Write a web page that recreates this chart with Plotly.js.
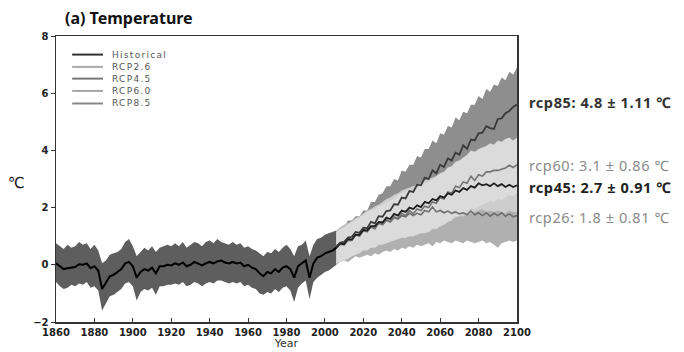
<!DOCTYPE html>
<html><head><meta charset="utf-8">
<script src="https://cdn.plot.ly/plotly-3.0.1.min.js"></script>
<style>html,body{margin:0;padding:0;background:#fff;}#chart{width:684px;height:352px;}</style>
</head><body><div id="chart"></div>
<script>
const histYears = [1860,1862,1864,1866,1868,1870,1872,1874,1876,1878,1880,1882,1884,1886,1888,1890,1892,1894,1896,1898,1900,1902,1904,1906,1908,1910,1912,1914,1916,1918,1920,1922,1924,1926,1928,1930,1932,1934,1936,1938,1940,1942,1944,1946,1948,1950,1952,1954,1956,1958,1960,1962,1964,1966,1968,1970,1972,1974,1976,1978,1980,1982,1984,1986,1988,1990,1992,1994,1996,1998,2000,2002,2004,2006];
const histMean = [0.05,-0.05,-0.15,-0.12,-0.1,-0.08,0.02,0.0,0.05,-0.12,-0.05,-0.2,-0.85,-0.6,-0.4,-0.35,-0.25,-0.15,0.05,0.1,-0.05,-0.45,-0.25,-0.15,-0.2,-0.1,-0.3,-0.05,-0.05,0.0,-0.02,0.05,0.0,0.08,-0.05,0.0,0.1,0.05,-0.02,0.05,0.1,0.05,0.12,0.15,0.08,0.05,0.1,0.05,0.08,-0.05,0.0,-0.1,-0.15,-0.3,-0.4,-0.25,-0.3,-0.15,-0.25,-0.1,-0.05,-0.15,-0.45,-0.05,0.05,0.15,-0.45,0.05,0.25,0.3,0.4,0.45,0.5,0.6];
const histUpper = [0.75,0.65,0.55,0.7,0.6,0.65,0.8,0.7,0.75,0.55,0.7,0.5,0.05,0.15,0.35,0.4,0.45,0.55,0.8,0.9,0.65,0.3,0.45,0.6,0.5,0.65,0.45,0.6,0.65,0.7,0.65,0.75,0.65,0.8,0.6,0.7,0.8,0.75,0.65,0.8,0.85,0.75,0.9,0.8,0.75,0.7,0.8,0.7,0.75,0.6,0.65,0.55,0.5,0.4,0.3,0.45,0.4,0.55,0.45,0.6,0.7,0.55,0.3,0.65,0.7,0.85,0.3,0.7,0.9,0.95,1.05,1.1,1.15,1.2];
const histLower = [-0.6,-0.75,-0.85,-0.8,-0.7,-0.75,-0.65,-0.7,-0.6,-0.8,-0.75,-0.9,-1.6,-1.35,-1.1,-1.05,-0.95,-0.85,-0.65,-0.6,-0.75,-1.25,-0.95,-0.85,-0.9,-0.8,-1.05,-0.75,-0.75,-0.7,-0.7,-0.65,-0.7,-0.6,-0.75,-0.7,-0.6,-0.65,-0.75,-0.65,-0.6,-0.65,-0.55,-0.55,-0.6,-0.65,-0.6,-0.65,-0.6,-0.75,-0.7,-0.8,-0.85,-1.0,-1.05,-0.95,-1.0,-0.85,-0.95,-0.8,-0.75,-0.9,-1.3,-0.8,-0.65,-0.55,-1.2,-0.6,-0.45,-0.35,-0.25,-0.2,-0.1,0.0];

const futYears = [2006,2008,2010,2012,2014,2016,2018,2020,2022,2024,2026,2028,2030,2032,2034,2036,2038,2040,2042,2044,2046,2048,2050,2052,2054,2056,2058,2060,2062,2064,2066,2068,2070,2072,2074,2076,2078,2080,2082,2084,2086,2088,2090,2092,2094,2096,2098,2100];

const rcp85Mean = [0.65,0.78,0.8,0.95,0.98,1.15,1.12,1.3,1.28,1.5,1.45,1.7,1.68,1.88,1.9,2.12,2.1,2.35,2.32,2.58,2.55,2.8,2.78,3.05,3.0,3.3,3.2,3.5,3.42,3.72,3.65,3.92,3.85,4.18,4.05,4.38,4.35,4.6,4.62,4.85,4.78,4.75,5.1,5.12,5.3,5.38,5.52,5.6];
const rcp85Upper = [1.1,1.3,1.3,1.55,1.55,1.7,1.7,1.9,1.9,2.2,2.2,2.45,2.5,2.75,2.75,3.0,2.95,3.3,3.25,3.5,3.5,3.8,3.75,4.05,4.05,4.35,4.25,4.6,4.55,4.85,4.8,5.15,5.05,5.35,5.3,5.6,5.6,5.9,5.8,6.15,6.05,6.3,6.25,6.55,6.45,6.75,6.65,6.9];
const rcp85Lower = [0.15,0.2,0.3,0.35,0.45,0.5,0.6,0.6,0.7,0.8,0.8,0.9,1.0,1.0,1.15,1.2,1.3,1.35,1.45,1.5,1.6,1.65,1.75,1.8,1.9,2.0,2.05,2.2,2.2,2.35,2.45,2.5,2.6,2.75,2.8,2.9,3.05,3.1,3.25,3.35,3.45,3.45,3.65,3.75,3.85,3.95,4.1,4.4];

const rcp60Mean = [0.6,0.72,0.7,0.86,0.85,1.05,1.0,1.2,1.15,1.32,1.25,1.45,1.4,1.55,1.5,1.68,1.62,1.8,1.72,1.9,1.78,1.95,1.9,2.05,2.0,2.2,2.15,2.35,2.3,2.55,2.5,2.75,2.7,2.9,2.85,3.1,2.95,3.15,3.1,3.25,3.25,3.3,3.3,3.35,3.38,3.48,3.4,3.5];
const rcp60Upper = [1.15,1.25,1.3,1.4,1.5,1.6,1.65,1.75,1.85,1.9,1.95,2.05,2.1,2.2,2.25,2.3,2.45,2.5,2.55,2.65,2.6,2.7,2.8,2.85,2.9,3.0,3.1,3.2,3.25,3.4,3.45,3.6,3.65,3.75,3.85,4.0,3.95,4.05,4.1,4.15,4.25,4.2,4.35,4.3,4.4,4.45,4.35,4.45];
const rcp60Lower = [0.05,0.1,0.15,0.2,0.3,0.35,0.4,0.5,0.5,0.6,0.6,0.7,0.7,0.75,0.8,0.85,0.9,0.95,0.95,1.0,1.0,1.05,1.1,1.1,1.15,1.25,1.25,1.35,1.4,1.5,1.55,1.7,1.7,1.8,1.85,2.0,1.95,2.05,2.1,2.15,2.25,2.2,2.3,2.25,2.35,2.45,2.4,2.5];

const rcp45Mean = [0.6,0.75,0.72,0.9,0.88,1.05,1.05,1.22,1.2,1.35,1.35,1.5,1.48,1.65,1.6,1.78,1.72,1.9,1.85,2.0,1.95,2.08,2.02,2.2,2.15,2.3,2.25,2.4,2.35,2.5,2.45,2.6,2.55,2.68,2.62,2.75,2.7,2.85,2.78,2.82,2.75,2.85,2.75,2.82,2.72,2.8,2.72,2.78];
const rcp45Upper = [1.15,1.25,1.35,1.45,1.5,1.6,1.7,1.8,1.9,1.95,2.05,2.1,2.2,2.3,2.35,2.45,2.5,2.6,2.65,2.7,2.75,2.8,2.85,2.95,3.0,3.05,3.1,3.15,3.2,3.3,3.35,3.4,3.45,3.5,3.55,3.55,3.6,3.7,3.75,3.65,3.7,3.65,3.7,3.7,3.6,3.7,3.65,3.65];
const rcp45Lower = [0.05,0.15,0.2,0.25,0.3,0.4,0.5,0.55,0.6,0.65,0.75,0.75,0.8,0.9,0.9,0.95,1.0,1.05,1.1,1.1,1.15,1.15,1.2,1.25,1.3,1.35,1.4,1.45,1.5,1.5,1.6,1.65,1.7,1.7,1.75,1.8,1.85,1.9,1.95,1.85,1.9,1.85,1.9,1.85,1.8,1.9,1.85,1.85];

const rcp26Mean = [0.6,0.72,0.75,0.9,0.88,1.05,1.05,1.2,1.18,1.35,1.3,1.47,1.42,1.58,1.5,1.65,1.6,1.72,1.68,1.8,1.72,1.8,1.75,1.9,1.85,2.02,1.85,1.9,1.82,1.88,1.8,1.85,1.78,1.82,1.75,1.88,1.75,1.82,1.72,1.82,1.7,1.8,1.72,1.82,1.7,1.78,1.68,1.72];
const rcp26Upper = [1.2,1.3,1.4,1.45,1.55,1.65,1.7,1.8,1.85,1.95,2.0,2.1,2.1,2.2,2.25,2.3,2.35,2.4,2.45,2.5,2.5,2.5,2.55,2.6,2.65,2.75,2.65,2.6,2.65,2.6,2.6,2.55,2.6,2.55,2.6,2.6,2.55,2.6,2.55,2.6,2.5,2.55,2.55,2.6,2.5,2.55,2.5,2.5];
const rcp26Lower = [0.0,0.1,0.15,0.1,0.2,0.3,0.25,0.3,0.35,0.3,0.4,0.35,0.45,0.5,0.45,0.55,0.5,0.6,0.55,0.65,0.6,0.7,0.65,0.7,0.75,0.65,0.8,0.75,0.85,0.8,0.75,0.85,0.8,0.75,0.85,0.8,0.75,0.8,0.85,0.75,0.8,0.7,0.6,0.75,0.8,0.85,0.8,0.85];

const legendNames = ['Historical','RCP2.6','RCP4.5','RCP6.0','RCP8.5'];
const legendColors = ['#333333','#aaaaaa','#777777','#a5a5a5','#888888'];

const endLabels = ['rcp85: 4.8 ± 1.11 ℃','rcp60: 3.1 ± 0.86 ℃','rcp45: 2.7 ± 0.91 ℃','rcp26: 1.8 ± 0.81 ℃'];
const endLabelY = [5.7, 3.5, 2.72, 1.68];
const endLabelColors = ['#333333','#8a8a8a','#222222','#8a8a8a'];
const endLabelBold = [true,false,true,false];

function band(x, lo, hi, color){
  return [
    {x:x, y:lo, type:'scatter', mode:'lines', line:{width:0, color:color}, showlegend:false, hoverinfo:'skip'},
    {x:x, y:hi, type:'scatter', mode:'lines', line:{width:0, color:color}, fill:'tonexty', fillcolor:color, showlegend:false, hoverinfo:'skip'}
  ];
}
function line(x, y, color, w){
  return {x:x, y:y, type:'scatter', mode:'lines', line:{color:color, width:w}, showlegend:false};
}

const data = [].concat(
  band(histYears, histLower, histUpper, '#5e5e5e'),
  band(futYears, rcp85Lower, rcp85Upper, '#8e8e8e'),
  band(futYears, rcp26Lower, rcp26Upper, '#b0b0b0'),
  band(futYears, rcp45Lower, rcp45Upper, '#cdcdcd'),
  band(futYears, rcp60Lower, rcp60Upper, '#dbdbdb'),
  [line(futYears, rcp26Mean, '#6e6e6e', 1.6),
   line(futYears, rcp60Mean, '#737373', 1.6),
   line(futYears, rcp45Mean, '#1e1e1e', 1.8),
   line(futYears, rcp85Mean, '#3a3a3a', 1.8),
   line(histYears, histMean, '#000000', 2)]
);

const shapes = [];
const annotations = [];
const legY = [0.935, 0.892, 0.851, 0.808, 0.764];
legendNames.forEach((n,i)=>{
  shapes.push({type:'line', xref:'paper', yref:'paper', x0:0.035, x1:0.102, y0:legY[i], y1:legY[i], line:{color:legendColors[i], width:2}});
  annotations.push({xref:'paper', yref:'paper', x:0.117, y:legY[i], text:'<span style="letter-spacing:1.3px">'+n+'</span>', showarrow:false, xanchor:'left', yanchor:'middle',
    font:{family:'DejaVu Sans', size:9, color:'#555555'}});
});
endLabels.forEach((t,i)=>{
  annotations.push({xref:'paper', yref:'y', x:1.021, y:endLabelY[i], text:'<span style="letter-spacing:0.6px">'+t+'</span>', showarrow:false, xanchor:'left', yanchor:'middle',
    font:{family:'Noto Sans', size:14.5, color:endLabelColors[i], weight: endLabelBold[i] ? 'bold' : 'normal'}});
});
annotations.push({xref:'paper', yref:'paper', x:-0.085, y:0.485, text:'℃', showarrow:false, xanchor:'center', yanchor:'middle',
  font:{family:'DejaVu Sans', size:15, color:'#111111'}});

const layout = {
  width:684, height:352,
  margin:{l:56, r:167, t:36, b:30},
  paper_bgcolor:'#ffffff', plot_bgcolor:'#ffffff',
  title:{text:'<b>(a) Temperature</b>', xref:'container', yref:'container', x:65/684, xanchor:'left', y:1-18/352, yanchor:'middle',
    font:{family:'Noto Sans', size:16, color:'#111111'}},
  xaxis:{range:[1860,2100], tickmode:'linear', tick0:1860, dtick:20, ticks:'inside', ticklen:4, tickcolor:'#333',
    showline:true, linecolor:'#333', linewidth:1.5, mirror:true, showgrid:false, zeroline:false,
    tickfont:{family:'DejaVu Sans', size:10, color:'#222', weight:'bold'},
    title:{text:'Year', font:{family:'DejaVu Sans', size:11, color:'#333'}, standoff:2}},
  yaxis:{range:[-2,8], tickmode:'linear', tick0:-2, dtick:2, ticks:'outside', ticklen:4, tickcolor:'#333',
    showline:true, linecolor:'#333', linewidth:1.5, mirror:true, showgrid:false, zeroline:false,
    tickfont:{family:'DejaVu Sans', size:10, color:'#222', weight:'bold'}},
  shapes:shapes, annotations:annotations
};
Plotly.newPlot('chart', data, layout, {staticPlot:true, displayModeBar:false});
</script></body></html>
